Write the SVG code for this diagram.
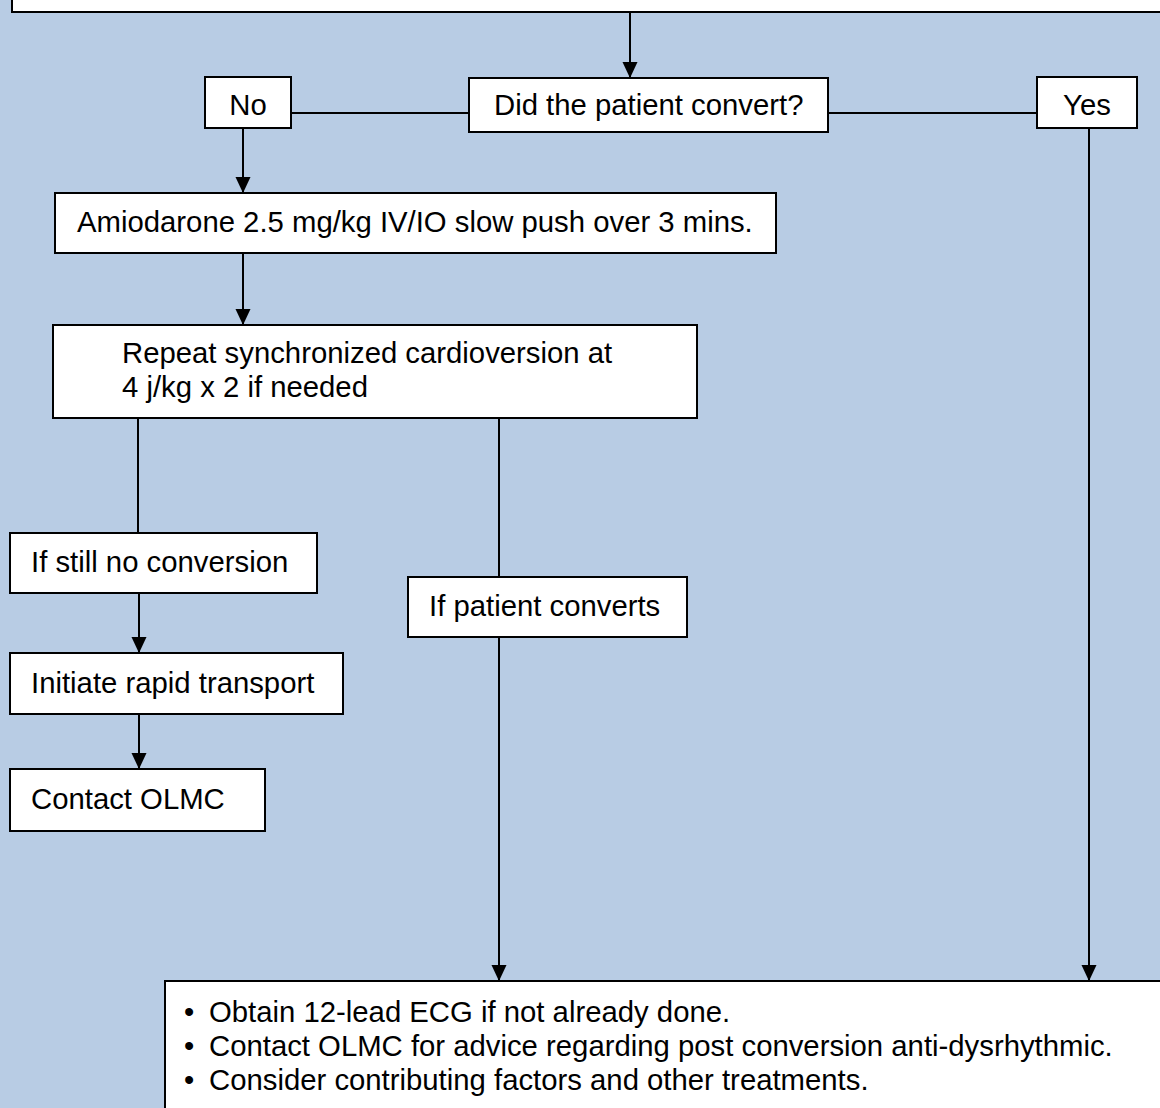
<svg xmlns="http://www.w3.org/2000/svg" width="1160" height="1108" viewBox="0 0 1160 1108">
<defs>
<style>
.box{fill:#ffffff;stroke:#000000;stroke-width:2}
.ln{fill:none;stroke:#000000;stroke-width:2}
.t{font-family:"Liberation Sans",Arial,sans-serif;font-size:29.3px;fill:#000000}
</style>
<marker id="ah" markerUnits="userSpaceOnUse" markerWidth="16" markerHeight="17" viewBox="0 0 17 16" refX="17" refY="8" orient="auto">
<path d="M0,0 L17,8 L0,16 z" fill="#000000"/>
</marker>
</defs>
<rect x="0" y="0" width="1160" height="1108" fill="#b8cce4"/>
<g id="connectors">
<line class="ln" x1="630" y1="12" x2="630" y2="78" marker-end="url(#ah)"/>
<line class="ln" x1="291" y1="113" x2="469" y2="113"/>
<line class="ln" x1="828" y1="113" x2="1037" y2="113"/>
<line class="ln" x1="243" y1="128" x2="243" y2="193" marker-end="url(#ah)"/>
<line class="ln" x1="243" y1="253" x2="243" y2="325" marker-end="url(#ah)"/>
<line class="ln" x1="138" y1="418" x2="138" y2="533"/>
<line class="ln" x1="499" y1="418" x2="499" y2="577"/>
<line class="ln" x1="139" y1="593" x2="139" y2="653" marker-end="url(#ah)"/>
<line class="ln" x1="139" y1="714" x2="139" y2="769" marker-end="url(#ah)"/>
<line class="ln" x1="499" y1="637" x2="499" y2="981" marker-end="url(#ah)"/>
<line class="ln" x1="1089" y1="128" x2="1089" y2="981" marker-end="url(#ah)"/>
</g>
<g id="top"><rect class="box" x="12" y="-20" width="1170" height="32"/></g>
<g id="decision"><rect class="box" x="469" y="78" width="359" height="54"/><text class="t" x="494" y="115">Did the patient convert?</text></g>
<g id="no"><rect class="box" x="205" y="77" width="86" height="51"/><text class="t" x="248" y="115" text-anchor="middle">No</text></g>
<g id="yes"><rect class="box" x="1037" y="77" width="100" height="51"/><text class="t" x="1087" y="115" text-anchor="middle">Yes</text></g>
<g id="amiodarone"><rect class="box" x="55" y="193" width="721" height="60"/><text class="t" x="77" y="232">Amiodarone 2.5 mg/kg IV/IO slow push over 3 mins.</text></g>
<g id="repeat"><rect class="box" x="53" y="325" width="644" height="93"/><text class="t" x="122" y="363">Repeat synchronized cardioversion at</text><text class="t" x="122" y="397">4 j/kg x 2 if needed</text></g>
<g id="still"><rect class="box" x="10" y="533" width="307" height="60"/><text class="t" x="31" y="572">If still no conversion</text></g>
<g id="converts"><rect class="box" x="408" y="577" width="279" height="60"/><text class="t" x="429" y="616">If patient converts</text></g>
<g id="transport"><rect class="box" x="10" y="653" width="333" height="61"/><text class="t" x="31" y="693">Initiate rapid transport</text></g>
<g id="olmc"><rect class="box" x="10" y="769" width="255" height="62"/><text class="t" x="31" y="809">Contact OLMC</text></g>
<g id="final"><rect class="box" x="165" y="981" width="1010" height="200"/>
<text class="t" x="184" y="1022">•</text><text class="t" x="209" y="1022">Obtain 12-lead ECG if not already done.</text>
<text class="t" x="184" y="1056">•</text><text class="t" x="209" y="1056">Contact OLMC for advice regarding post conversion anti-dysrhythmic.</text>
<text class="t" x="184" y="1090">•</text><text class="t" x="209" y="1090">Consider contributing factors and other treatments.</text>
</g>
</svg>
